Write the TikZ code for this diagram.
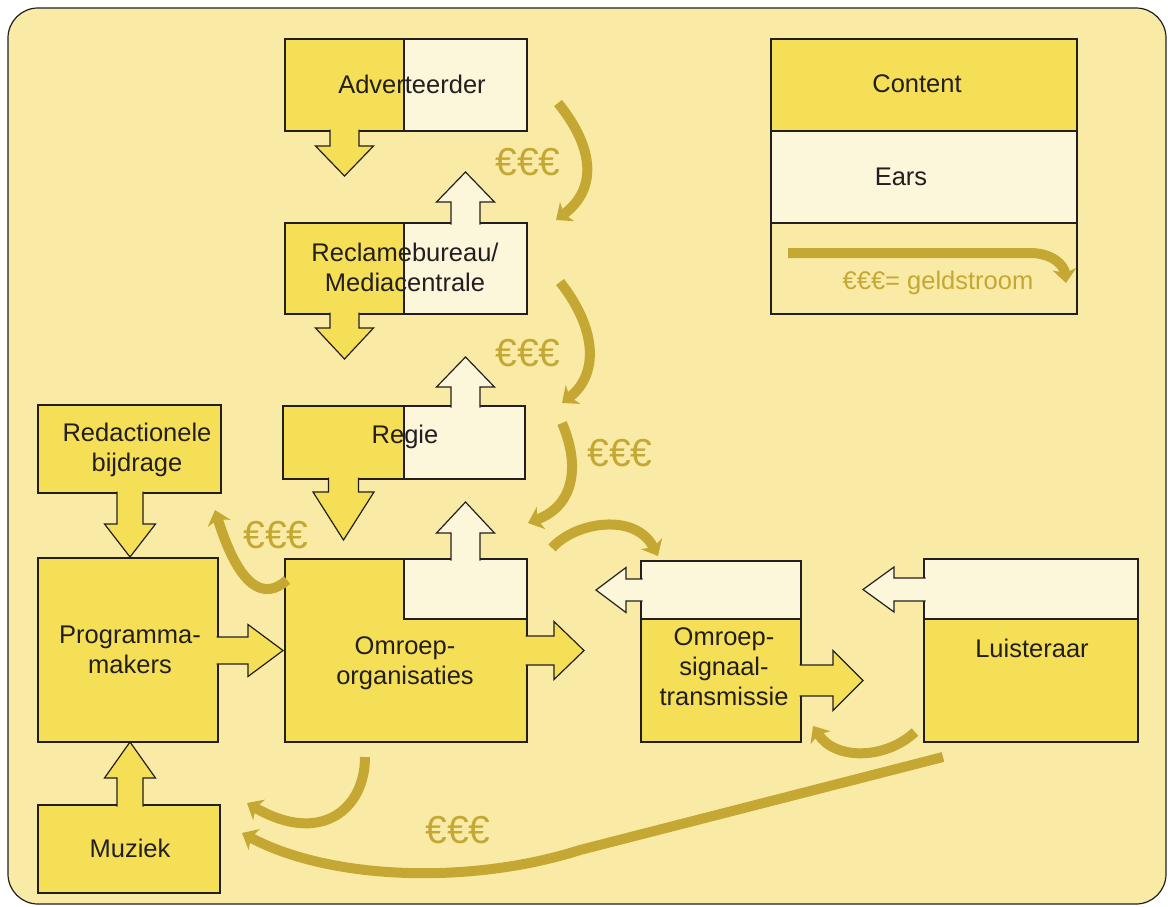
\documentclass[tikz,border=0pt]{standalone}
\usepackage{fontspec}
\setmainfont{Liberation Sans}
\usepackage{tikz}
\usetikzlibrary{arrows.meta,calc}
\usetikzlibrary{positioning}
\definecolor{achtergrond}{HTML}{F9EBA5}
\definecolor{content}{HTML}{F5DF57}
\definecolor{ears}{HTML}{FCF6DA}
\definecolor{geld}{HTML}{C4A833}
\definecolor{tekst}{HTML}{231F20}
\newcommand\blockarrow[7]{% start, angle, shaft length, shaft width, head length, head width, fill
  \filldraw[lijn,fill=#7,shift={#1},rotate=#2]
    (-1.5,-#4/2) -- ++(#3+1.5,0) -- ++(0,#4/2-#6/2) -- ++(#5,#6/2)
    -- ++(-#5,#6/2) -- ++(0,#4/2-#6/2) -- ++(-#3-1.5,0);
}
\tikzset{
    %Define standard arrow tip
    >={Stealth[length=14pt,width=24pt,inset=4pt,line width=0pt]},
    % outline of the blocks
    lijn/.style={draw=tekst, line width=1.2pt},
    % money flow
    geldpijl/.style={
           ->,
           draw=geld,
           line width=10pt,},
    tekstblok/.style={text=tekst, font=\fontsize{25.5}{30}\selectfont, align=center, inner sep=0pt},
    euro/.style={text=geld, font=\fontsize{39}{40}\selectfont, inner sep=0pt}
}
\begin{document}
\begin{tikzpicture}[x=1pt,y=-1pt]
  \useasboundingbox (0,0) rectangle (1168,906);
  \filldraw[lijn,fill=achtergrond,rounded corners=30pt] (8,8) rectangle (1166,904);
  % blocks
  \filldraw[lijn,fill=content] (285,39) rectangle (404,131);
  \filldraw[lijn,fill=ears] (404,39) rectangle (527,131);
  \filldraw[lijn,fill=content] (285,223) rectangle (404,314);
  \filldraw[lijn,fill=ears] (404,223) rectangle (527,314);
  \filldraw[lijn,fill=content] (283,406) rectangle (404,479);
  \filldraw[lijn,fill=ears] (404,406) rectangle (525,479);
  \filldraw[lijn,fill=content] (285,559) -- (404,559) -- (404,619) -- (527,619) -- (527,742) -- (285,742) -- cycle;
  \filldraw[lijn,fill=ears] (404,559) rectangle (527,619);
  \filldraw[lijn,fill=content] (38,405) rectangle (221,493);
  \filldraw[lijn,fill=content] (38,558) rectangle (218,742);
  \filldraw[lijn,fill=content] (38,805) rectangle (220,893);
  \filldraw[lijn,fill=ears] (641,561) rectangle (801,619);
  \filldraw[lijn,fill=content] (641,619) rectangle (801,742);
  \filldraw[lijn,fill=ears] (924,559) rectangle (1138,619);
  \filldraw[lijn,fill=content] (924,619) rectangle (1138,742);
  \filldraw[lijn,fill=content] (771,39) rectangle (1077,131);
  \filldraw[lijn,fill=ears] (771,131) rectangle (1077,223);
  \draw[lijn] (771,223) rectangle (1077,314);
  % block arrows
  \blockarrow{(344.5,131)}{-90}{15}{29}{30}{58}{content}
  \blockarrow{(465.5,223)}{90}{21}{29}{30}{58}{ears}
  \blockarrow{(344.5,314)}{-90}{14}{29}{31}{58}{content}
  \blockarrow{(465.5,406)}{90}{19}{29}{30}{58}{ears}
  \blockarrow{(343.5,479)}{-90}{13}{30}{48}{61}{content}
  \blockarrow{(465.5,559)}{90}{26}{29}{31}{58}{ears}
  \blockarrow{(527,650.5)}{0}{27}{29}{30}{58}{content}
  \blockarrow{(218,650.5)}{0}{30}{27}{35}{52}{content}
  \blockarrow{(130,493)}{-90}{31}{26}{33}{51}{content}
  \blockarrow{(130,805)}{90}{27}{26}{36}{51}{content}
  \blockarrow{(641,590)}{180}{15}{22}{30}{45}{ears}
  \blockarrow{(801,680.5)}{0}{32}{31}{30}{60}{content}
  \blockarrow{(924,589.5)}{180}{30}{23}{31}{45}{ears}
  % labels
  \node (adv) at (412,84) [tekstblok] {Adverteerder};
  \node (rmb) at (405,267) [tekstblok] {Reclamebureau/\\Mediacentrale};
  \node (regie) at (405,437) [tekstblok] {Regie};
  \node (omroep) at (405,663) [tekstblok] {Omroep-\\organisaties};
  \node (prog) at (130,650) [tekstblok] {Programma-\\makers};
  \node (redac) at (137,450) [tekstblok] {Redactionele\\bijdrage};
  \node (muziek) at (130,848) [tekstblok] {Muziek};
  \node (signaal) at (724,667) [tekstblok] {Omroep-\\signaal-\\transmissie};
  \node (luist) at (1032,648) [tekstblok] {Luisteraar};
  \node (content) at (917,84) [tekstblok] {Content};
  \node (ears) at (901,177) [tekstblok] {Ears};
  \node (legenda) at (938,283) [tekstblok,text=geld] {€€€= geldstroom};
  % money flows
  \coordinate (g1a) at (558,103);
  \coordinate (g1b) at (556,220);
  \coordinate (g2a) at (560,282);
  \coordinate (g2b) at (562,403);
  \coordinate (g3a) at (562,423);
  \coordinate (g3b) at (528,523);
  \coordinate (g4a) at (552,548);
  \coordinate (g4b) at (658,556);
  \coordinate (g5a) at (287,580);
  \coordinate (g5b) at (215,510);
  \coordinate (g6a) at (365,757);
  \coordinate (g6b) at (247,803);
  \coordinate (g7a) at (943,757);
  \coordinate (g7b) at (242,833);
  \coordinate (g8a) at (915,732);
  \coordinate (g8b) at (813,726);
  \coordinate (g9a) at (788,253);
  \coordinate (g9b) at (1066,283);
  \draw [geldpijl] (g1a) .. controls (596,150) and (596,190) .. (g1b);
  \draw [geldpijl] (g2a) .. controls (598,330) and (598,375) .. (g2b);
  \draw [geldpijl] (g3a) .. controls (580,465) and (575,505) .. (g3b);
  \draw [geldpijl] (g4a) .. controls (575,522) and (635,512) .. (g4b);
  \draw [geldpijl] (g5a) .. controls (265,600) and (240,590) .. (g5b);
  \draw [geldpijl] (g6a) .. controls (365,810) and (320,845) .. (g6b);
  \draw [geldpijl] (g7a) -- (580,850) .. controls (470,885) and (330,880) .. (g7b);
  \draw [geldpijl] (g8a) .. controls (885,760) and (835,760) .. (g8b);
  \draw [geldpijl] (g9a) -- (1030,253) .. controls (1052,253) and (1064,265) .. (g9b);
  \node (eur1) at (528,162) [euro] {€€€};
  \node (eur2) at (528,353) [euro] {€€€};
  \node (eur3) at (620,453) [euro] {€€€};
  \node (eur4) at (276,535) [euro] {€€€};
  \node (eur5) at (458,830) [euro] {€€€};
\end{tikzpicture}
\end{document}
